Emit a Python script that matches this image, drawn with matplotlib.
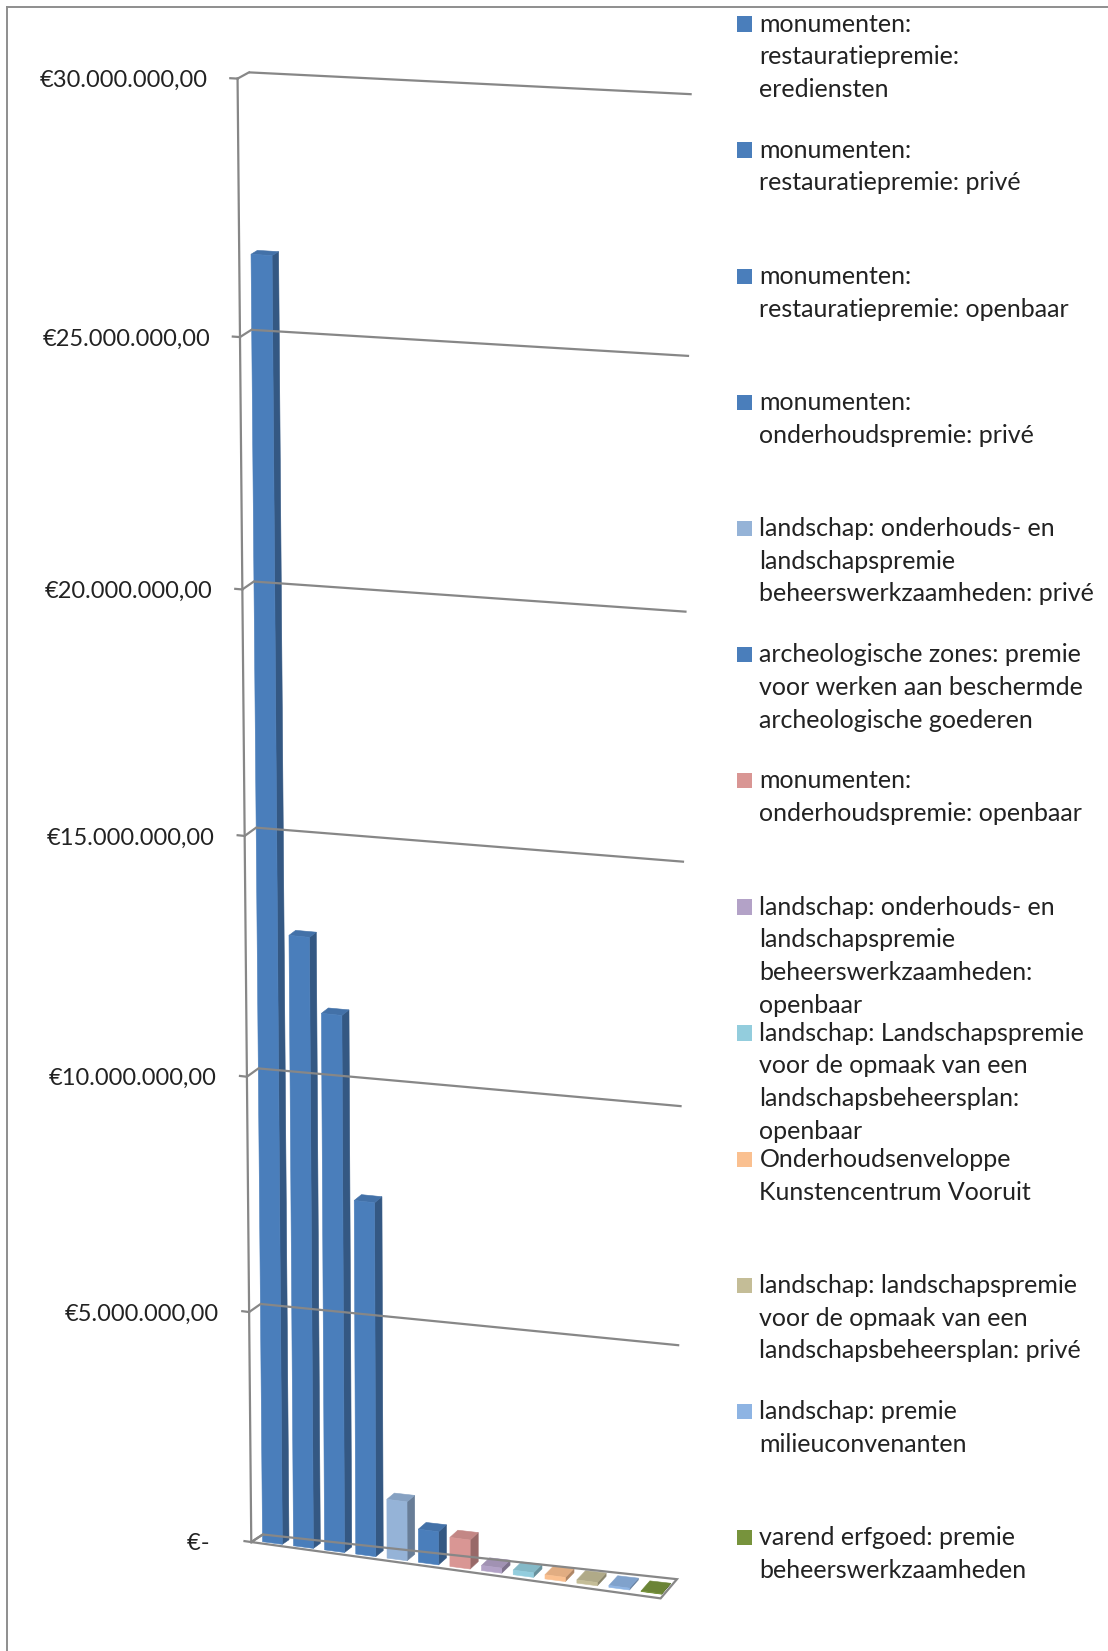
import numpy as np
import matplotlib
matplotlib.use("Agg")
import matplotlib.pyplot as plt
from matplotlib.transforms import Transform, Affine2D
from matplotlib.patches import Rectangle
from matplotlib.colors import to_rgb

# ------------------------------------------------------------------ data
categories = [
    "monumenten:\nrestauratiepremie:\nerediensten",
    "monumenten:\nrestauratiepremie: privé",
    "monumenten:\nrestauratiepremie: openbaar",
    "monumenten:\nonderhoudspremie: privé",
    "landschap: onderhouds- en\nlandschapspremie\nbeheerswerkzaamheden: privé",
    "archeologische zones: premie\nvoor werken aan beschermde\narcheologische goederen",
    "monumenten:\nonderhoudspremie: openbaar",
    "landschap: onderhouds- en\nlandschapspremie\nbeheerswerkzaamheden:\nopenbaar",
    "landschap: Landschapspremie\nvoor de opmaak van een\nlandschapsbeheersplan:\nopenbaar",
    "Onderhoudsenveloppe\nKunstencentrum Vooruit",
    "landschap: landschapspremie\nvoor de opmaak van een\nlandschapsbeheersplan: privé",
    "landschap: premie\nmilieuconvenanten",
    "varend erfgoed: premie\nbeheerswerkzaamheden",
]
values = [26_600_000, 13_000_000, 11_450_000, 7_600_000, 1_280_000, 720_000,
          630_000, 110_000, 100_000, 90_000, 70_000, 40_000, 10_000]
colors = ["#4A7EBB", "#4A7EBB", "#4A7EBB", "#4A7EBB", "#95B3D7", "#4A7EBB",
          "#D99694", "#B3A2C7", "#93CDDD", "#FAC090", "#C4BD97", "#8EB4E3",
          "#77933C"]
y_ticks = [0, 5_000_000, 10_000_000, 15_000_000, 20_000_000, 25_000_000,
           30_000_000]
y_ticklabels = ["€-  ", "€5.000.000,00", "€10.000.000,00", "€15.000.000,00",
                "€20.000.000,00", "€25.000.000,00", "€30.000.000,00"]

# ------------------------------------------------------------------ layout
W_REF, H_REF = 1052.0, 1568.0          # reference frame used for layout
W_PX, H_PX = 1108, 1651
UNIT = 1e6                              # value unit of the 3-D frame
N_SLOTS = len(values)

# corners/edges of the 3-D frame (front plane z=0 and back wall z=1)
# given as ((slot, value in millions), (x, y) in the reference frame)
front_anchor = [((0, 0), (239.0, 1466.0)), ((0, 5), (236.7, 1246.0)),
                ((0, 10), (234.2, 1021.4)), ((0, 15), (232.0, 793.0)),
                ((0, 20), (229.5, 559.3)), ((0, 25), (228.6, 320.0)),
                ((0, 30), (225.3, 76.0)), ((13, 0), (627.0, 1518.0)),
                ((13, 30), (643.0, 98.0))]
back_anchor = [((0, 0), (250.0, 1456.0)), ((0, 5), (246.9, 1239.0)),
               ((0, 10), (245.3, 1016.0)), ((0, 15), (242.5, 785.0)),
               ((0, 20), (240.5, 553.8)), ((0, 25), (239.0, 313.5)),
               ((0, 30), (237.5, 67.5)), ((13, 0), (643.0, 1498.0)),
               ((13, 5), (644.7, 1279.0)), ((13, 10), (647.5, 1052.0)),
               ((13, 15), (650.0, 818.0)), ((13, 20), (652.0, 581.0)),
               ((13, 25), (654.0, 338.0)), ((13, 30), (656.0, 89.0))]


def fit_homography(pairs):
    src = np.array([p[0] for p in pairs], float)
    dst = np.array([p[1] for p in pairs], float)

    def norm(p):
        m = p.mean(0)
        s = p.std(0)
        s[s == 0] = 1
        return np.array([[1 / s[0], 0, -m[0] / s[0]],
                         [0, 1 / s[1], -m[1] / s[1]],
                         [0, 0, 1]])
    Ts, Td = norm(src), norm(dst)
    sh = (Ts @ np.c_[src, np.ones(len(src))].T).T
    dh = (Td @ np.c_[dst, np.ones(len(dst))].T).T
    rows = []
    for (x, y, _), (u, v, _) in zip(sh, dh):
        rows.append([x, y, 1, 0, 0, 0, -u * x, -u * y, -u])
        rows.append([0, 0, 0, x, y, 1, -v * x, -v * y, -v])
    _, _, vt = np.linalg.svd(np.array(rows))
    H = np.linalg.inv(Td) @ vt[-1].reshape(3, 3) @ Ts
    return H / H[2, 2]


HF = fit_homography(front_anchor)
HB = fit_homography(back_anchor)


def apply_h(H, X, Y):
    p = H @ np.vstack([X, Y, np.ones_like(X)])
    return np.column_stack([p[0] / p[2], p[1] / p[2]])


class Proj(Transform):
    """Perspective of the 3-D chart box; maps one plane of the box to the
    reference frame.  plane 'z': (slot, value) at depth const,
    plane 'x': (depth, value) at slot const, plane 'y': (slot, depth) at
    value const."""
    input_dims = 2
    output_dims = 2
    is_separable = False
    has_inverse = False

    def __init__(self, plane, const=0.0):
        super().__init__()
        self.plane = plane
        self.const = float(const)

    def transform_non_affine(self, vals):
        v = np.asarray(vals, float).reshape(-1, 2)
        a, b = v[:, 0], v[:, 1]
        c = np.full_like(a, self.const)
        if self.plane == "z":
            X, Y, Z = a, b / UNIT, c
        elif self.plane == "x":
            X, Y, Z = c, b / UNIT, a
        else:
            X, Y, Z = a, c / UNIT, b
        f = apply_h(HF, X, Y)
        k = apply_h(HB, X, Y)
        return (1 - Z)[:, None] * f + Z[:, None] * k


REF = Affine2D().scale(W_PX / W_REF, -H_PX / H_REF).translate(0, H_PX)


def P(plane, const=0.0):
    return Proj(plane, const) + REF


def shade(c, f):
    r, g, b = to_rgb(c)
    return (r * f, g * f, b * f)


plt.rcParams["font.family"] = ["Lato", "DejaVu Sans"]
TXT = "#222222"
GRID = "#878787"
FS = 18
FS_TICK = 17

fig = plt.figure(figsize=(W_PX / 100, H_PX / 100), dpi=100)
ax = fig.add_axes([0, 0, 1, 1])
ax.set_axis_off()
ax.set_xlim(0, 1)
ax.set_ylim(0, 1)

# chart-area border
ax.plot([7, W_REF + 20], [7, 7], transform=REF, color="#8e8e8e", lw=1.4)
ax.plot([7, 7], [7, H_REF + 20], transform=REF, color="#8e8e8e", lw=1.4)

# back-wall gridlines, side-wall diagonals, tick marks and axis
for v in y_ticks[1:]:
    ax.plot([0, N_SLOTS], [v, v], transform=P("z", 1), color=GRID, lw=1.6,
            solid_capstyle="butt")
for v in y_ticks:
    ax.plot([0, 1], [v, v], transform=P("x", 0), color=GRID, lw=1.6)
    ax.plot([-0.22, 0], [v, v], transform=P("z", 0), color=GRID, lw=1.6)
ax.plot([0, 0], [0, y_ticks[-1]], transform=P("z", 0), color=GRID, lw=1.6)
# floor
ax.plot([0, N_SLOTS, N_SLOTS, 0, 0], [0, 0, 1, 1, 0], transform=P("y", 0),
        color=GRID, lw=1.6, solid_joinstyle="miter")

# tick labels
tick_tr = Proj("z", 0) + Affine2D().translate(-28.5, 8.0) + REF
for v, lab in zip(y_ticks, y_ticklabels):
    ax.text(0, v, lab, transform=tick_tr, ha="right", va="baseline",
            fontsize=FS_TICK, color=TXT)

# bars (front, side and top faces)
BAR_OFF, BAR_W = 0.29, 0.64
Z0, Z1 = 0.2, 0.75
for i, (v, c) in enumerate(zip(values, colors)):
    x0 = i + BAR_OFF
    x1 = x0 + BAR_W
    sc = shade(c, 0.70)
    ax.fill([Z0, Z1, Z1, Z0], [0, 0, v, v], transform=P("x", x1),
            facecolor=sc, edgecolor=sc, lw=0.4)
    tc = shade(c, 0.90)
    ax.fill([x0, x1, x1, x0], [Z0, Z0, Z1, Z1], transform=P("y", v),
            facecolor=tc, edgecolor=tc, lw=0.4)
    ax.bar([x0 + BAR_W / 2], [v], width=BAR_W, transform=P("z", Z0),
           color=c, edgecolor=c, lw=0.4)

# legend
LEG_Y0, LEG_STEP, LINE_STEP = 30.0, 119.8, 31.0
for i, (lab, c) in enumerate(zip(categories, colors)):
    base = LEG_Y0 + LEG_STEP * i
    ax.add_patch(Rectangle((699.5, base - 14.5), 14.5, 14.5, transform=REF,
                           facecolor=c, edgecolor="none"))
    for k, line in enumerate(lab.split("\n")):
        ax.text(721, base + LINE_STEP * k, line, transform=REF, ha="left",
                va="baseline", fontsize=FS, color=TXT)

fig.savefig("out.png", dpi=100)
